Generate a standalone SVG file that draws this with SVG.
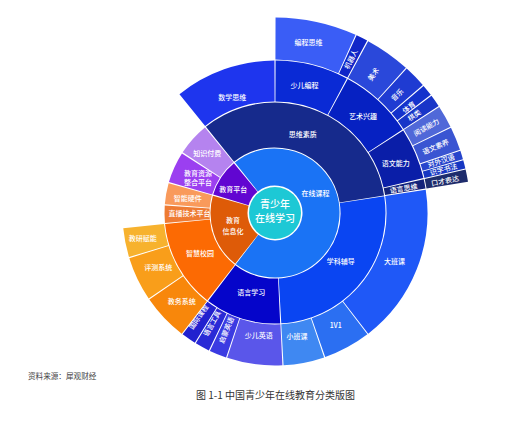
<svg xmlns="http://www.w3.org/2000/svg" width="512" height="421" viewBox="0 0 512 421">
<style>
.seg{fill:none;stroke-dashoffset:-0.5}
.r1{stroke-width:37}
.r2{stroke-width:45}
.r3{stroke-width:41}
.r4{stroke-width:42}
.lbl{fill:#fff;font-family:"Noto Sans CJK SC","Noto Sans",sans-serif;font-size:7px;font-weight:500;text-anchor:middle;dominant-baseline:central}
.ctr{fill:#fff;font-family:"Noto Sans CJK SC","Noto Sans",sans-serif;font-size:10px;font-weight:500;text-anchor:middle;dominant-baseline:central}
.foot{font-family:"Noto Sans CJK SC","Noto Sans",sans-serif}
</style>
<rect width="512" height="421" fill="#fff"/>
<g id="sunburst">
<!-- Ring 1 -->
<g id="node-zaixiankecheng"><circle class="seg r1" cx="275" cy="213" r="46" stroke="#1A73F5" stroke-dasharray="204.93 2000" transform="rotate(231 275 213)"/><text class="lbl" x="315.5" y="192.7">在线课程</text></g>
<g id="node-jiaoyupingtai"><circle class="seg r1" cx="275" cy="213" r="46" stroke="#6106D1" stroke-dasharray="27.1 2000" transform="rotate(196 275 213)"/><text class="lbl" x="233.3" y="189.3">教育平台</text></g>
<g id="node-jiaoyuxinxihua"><circle class="seg r1" cx="275" cy="213" r="46" stroke="#DE5B08" stroke-dasharray="54 2000" transform="rotate(127.5 275 213)"/><text class="lbl" x="233" y="219.5">教育</text><text class="lbl" x="233" y="230.7">信息化</text></g>
<!-- Ring 2 -->
<g id="node-siweisuzhi"><circle class="seg r2" cx="275" cy="213" r="88" stroke="#162A8C" stroke-dasharray="183.31 2000" transform="rotate(231 275 213)"/><text class="lbl" x="302.8" y="134">思维素质</text></g>
<g id="node-xuekefudao"><circle class="seg r2" cx="275" cy="213" r="88" stroke="#0A45F2" stroke-dasharray="146.45 2000" transform="rotate(-9 275 213)"/><text class="lbl" x="340.7" y="260.5">学科辅导</text></g>
<g id="node-yuyanxuexi"><circle class="seg r2" cx="275" cy="213" r="88" stroke="#0505CA" stroke-dasharray="61.2 2000" transform="rotate(87 275 213)"/><text class="lbl" x="251.3" y="291.7">语言学习</text></g>
<g id="node-zhihuixiaoyuan"><circle class="seg r2" cx="275" cy="213" r="88" stroke="#FC6A03" stroke-dasharray="71.19 2000" transform="rotate(127.5 275 213)"/><text class="lbl" x="200" y="253.3">智慧校园</text></g>
<g id="node-zhibojishupingtai"><circle class="seg r2" cx="275" cy="213" r="88" stroke="#EE7B33" stroke-dasharray="13.9 2000" transform="rotate(174.5 275 213)"/><text class="lbl" x="189.5" y="213">直播技术平台</text></g>
<g id="node-zhinengyingjian"><circle class="seg r2" cx="275" cy="213" r="88" stroke="#F99A5B" stroke-dasharray="17.12 2000" transform="rotate(184.2 275 213)"/><text class="lbl" x="187.8" y="197.5">智能硬件</text></g>
<g id="node-jiaoyuziyuan"><circle class="seg r2" cx="275" cy="213" r="88" stroke="#9B3FF0" stroke-dasharray="25.11 2000" transform="rotate(196 275 213)"/><text class="lbl" x="198" y="172.6">教育资源</text><text class="lbl" x="198" y="182.2">整合平台</text></g>
<g id="node-zhishifufei"><circle class="seg r2" cx="275" cy="213" r="88" stroke="#B583EF" stroke-dasharray="26.65 2000" transform="rotate(213 275 213)"/><text class="lbl" x="207.3" y="153.3">知识付费</text></g>
<!-- Ring 3 -->
<g id="node-shuxuesiwei"><circle class="seg r3" cx="275" cy="213" r="132" stroke="#1E35EE" stroke-dasharray="88.85 2000" transform="rotate(231 275 213)"/><text class="lbl" x="232.3" y="96.7">数学思维</text></g>
<g id="node-shaoerbiancheng"><circle class="seg r3" cx="275" cy="213" r="132" stroke="#0A2AD5" stroke-dasharray="64.2 2000" transform="rotate(-90 275 213)"/><text class="lbl" x="304.6" y="85.2">少儿编程</text></g>
<g id="node-yishuxingqu"><circle class="seg r3" cx="275" cy="213" r="132" stroke="#0621C2" stroke-dasharray="65.12 2000" transform="rotate(-61.7 275 213)"/><text class="lbl" x="363" y="116.2">艺术兴趣</text></g>
<g id="node-yuwennengli"><circle class="seg r3" cx="275" cy="213" r="132" stroke="#0A1EA8" stroke-dasharray="45.08 2000" transform="rotate(-33 275 213)"/><text class="lbl" x="395.8" y="162.7">语文能力</text></g>
<g id="node-yuyansiwei"><circle class="seg r3" cx="275" cy="213" r="132" stroke="#13227A" stroke-dasharray="8.22 2000" transform="rotate(-13 275 213)"/><text class="lbl" x="403.5" y="188" transform="rotate(-9 403.5 188)">语言思维</text></g>
<g id="node-dabanke"><circle class="seg r3" cx="275" cy="213" r="132" stroke="#1F58F7" stroke-dasharray="140.69 2000" transform="rotate(-9 275 213)"/><text class="lbl" x="394.5" y="260.5">大班课</text></g>
<g id="node-1v1"><circle class="seg r3" cx="275" cy="213" r="132" stroke="#2B6FF2" stroke-dasharray="41.62 2000" transform="rotate(52.5 275 213)"/><text class="lbl" x="335.7" y="325.2">1V1</text></g>
<g id="node-xiaobanke"><circle class="seg r3" cx="275" cy="213" r="132" stroke="#3F88F2" stroke-dasharray="35.86 2000" transform="rotate(71 275 213)"/><text class="lbl" x="297" y="335.5">小班课</text></g>
<g id="node-shaoeryingyu"><circle class="seg r3" cx="275" cy="213" r="132" stroke="#5A56EA" stroke-dasharray="48.53 2000" transform="rotate(87 275 213)"/><text class="lbl" x="258.8" y="335.2">少儿英语</text></g>
<g id="node-qimengyingyu"><circle class="seg r3" cx="275" cy="213" r="132" stroke="#3B3BE2" stroke-dasharray="15.13 2000" transform="rotate(108.5 275 213)"/><text class="lbl" x="226" y="330" transform="rotate(-68 226 330)">启蒙英语</text></g>
<g id="node-yuyangongju"><circle class="seg r3" cx="275" cy="213" r="132" stroke="#2A2AD6" stroke-dasharray="12.82 2000" transform="rotate(115.5 275 213)"/><text class="lbl" x="211.7" y="323.3" transform="rotate(-61 211.7 323.3)">语言工具</text></g>
<g id="node-guojikecheng"><circle class="seg r3" cx="275" cy="213" r="132" stroke="#2121CF" stroke-dasharray="12.82 2000" transform="rotate(121.5 275 213)"/><text class="lbl" x="198.3" y="316.7" transform="rotate(-55.5 198.3 316.7)">国际课程</text></g>
<g id="node-jiaowuxitong"><circle class="seg r3" cx="275" cy="213" r="132" stroke="#F8870B" stroke-dasharray="40.93 2000" transform="rotate(127.5 275 213)"/><text class="lbl" x="181.7" y="300.7">教务系统</text></g>
<g id="node-pingcexitong"><circle class="seg r3" cx="275" cy="213" r="132" stroke="#F99E1A" stroke-dasharray="38.86 2000" transform="rotate(145.7 275 213)"/><text class="lbl" x="158.3" y="266.7">评测系统</text></g>
<g id="node-jiaoyanfuneng"><circle class="seg r3" cx="275" cy="213" r="132" stroke="#F7B22E" stroke-dasharray="25.49 2000" transform="rotate(163 275 213)"/><text class="lbl" x="142.7" y="238.3">教研赋能</text></g>
<!-- Ring 4 -->
<g id="node-bianchengsiwei"><circle class="seg r4" cx="275" cy="213" r="174.5" stroke="#3A5DF6" stroke-dasharray="73.62 2000" transform="rotate(-90 275 213)"/><text class="lbl" x="308.6" y="42.3">编程思维</text></g>
<g id="node-jiqiren"><circle class="seg r4" cx="275" cy="213" r="174.5" stroke="#1026C8" stroke-dasharray="10.57 2000" transform="rotate(-65.5 275 213)"/><text class="lbl" x="350.5" y="59" transform="rotate(-63.6 350.5 59)">机器人</text></g>
<g id="node-meishu"><circle class="seg r4" cx="275" cy="213" r="174.5" stroke="#2A48DA" stroke-dasharray="41.33 2000" transform="rotate(-61.7 275 213)"/><text class="lbl" x="373" y="74" transform="rotate(-54.75 373 74)">美术</text></g>
<g id="node-yinyue"><circle class="seg r4" cx="275" cy="213" r="174.5" stroke="#1F3BD2" stroke-dasharray="20.62 2000" transform="rotate(-47.8 275 213)"/><text class="lbl" x="397" y="94.5" transform="rotate(-44.25 397 94.5)">音乐</text></g>
<g id="node-tiyu"><circle class="seg r4" cx="275" cy="213" r="174.5" stroke="#1432CC" stroke-dasharray="10.27 2000" transform="rotate(-40.7 275 213)"/><text class="lbl" x="408.5" y="107" transform="rotate(-38.85 408.5 107)">体育</text></g>
<g id="node-qilei"><circle class="seg r4" cx="275" cy="213" r="174.5" stroke="#1835C8" stroke-dasharray="11.18 2000" transform="rotate(-37 275 213)"/><text class="lbl" x="414" y="115" transform="rotate(-35 414 115)">棋类</text></g>
<g id="node-yuedunengli"><circle class="seg r4" cx="275" cy="213" r="174.5" stroke="#5068D8" stroke-dasharray="20.32 2000" transform="rotate(-33 275 213)"/><text class="lbl" x="426.3" y="127" transform="rotate(-29.5 426.3 127)">阅读能力</text></g>
<g id="node-yuwensuyang"><circle class="seg r4" cx="275" cy="213" r="174.5" stroke="#3A55D2" stroke-dasharray="21.23 2000" transform="rotate(-26 275 213)"/><text class="lbl" x="435.5" y="146.5" transform="rotate(-22.5 435.5 146.5)">语文素养</text></g>
<g id="node-duiwaihanyu"><circle class="seg r4" cx="275" cy="213" r="174.5" stroke="#2645CC" stroke-dasharray="7.83 2000" transform="rotate(-18.7 275 213)"/><text class="lbl" x="441" y="160.5" transform="rotate(-17.25 441 160.5)">对外汉语</text></g>
<g id="node-shizishufa"><circle class="seg r4" cx="275" cy="213" r="174.5" stroke="#1636C2" stroke-dasharray="7.53 2000" transform="rotate(-15.8 275 213)"/><text class="lbl" x="443.5" y="169" transform="rotate(-14.4 443.5 169)">识字书法</text></g>
<g id="node-koucaibiaoda"><circle class="seg r4" cx="275" cy="213" r="174.5" stroke="#1E2C6C" stroke-dasharray="11.18 2000" transform="rotate(-13 275 213)"/><text class="lbl" x="445" y="180.5" transform="rotate(-11 445 180.5)">口才表达</text></g>
<!-- Root -->
<g id="node-root"><circle cx="275" cy="213" r="26" fill="#1DC8D5"/><text class="ctr" x="275" y="203.5">青少年</text><text class="ctr" x="275" y="217.5">在线学习</text></g>
</g>
<g id="connectors"></g>
<text class="foot" x="28" y="375" font-size="7.6" fill="#444" dominant-baseline="central">资料来源：犀观财经</text>
<text class="foot" x="275.5" y="394" font-size="10" fill="#333" text-anchor="middle" dominant-baseline="central">图 1-1 中国青少年在线教育分类版图</text>
</svg>
